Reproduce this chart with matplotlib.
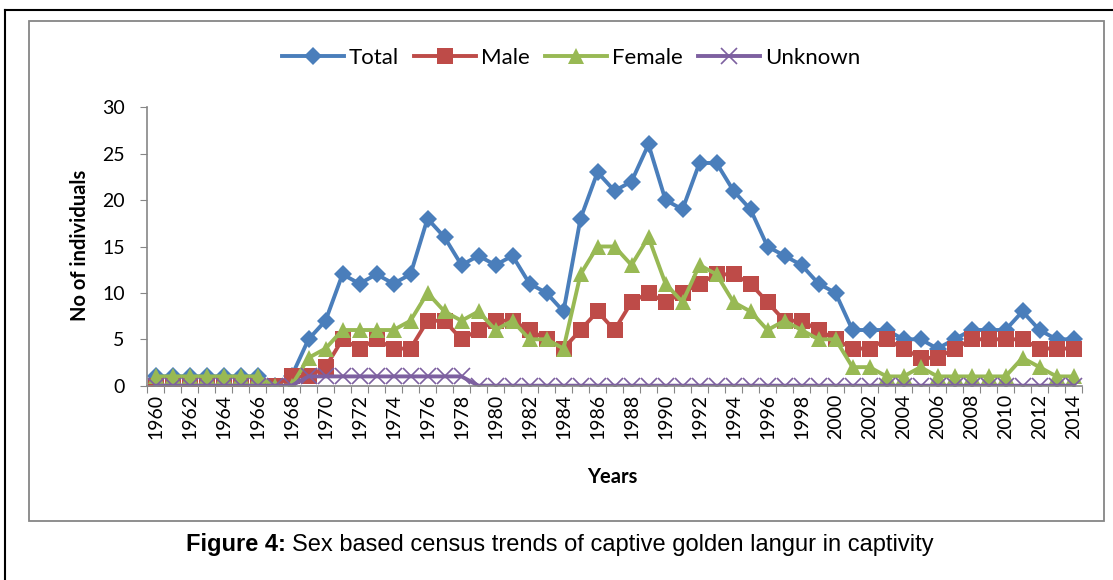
import numpy as np
import matplotlib
matplotlib.use('Agg')
import matplotlib.pyplot as plt
from matplotlib.lines import Line2D
from matplotlib.patches import Rectangle

plt.rcParams['font.family'] = ['Lato', 'DejaVu Sans']

years = list(range(1960, 2015))
total = [1, 1, 1, 1, 1, 1, 1, 0, 1, 5, 7, 12, 11, 12, 11, 12, 18, 16, 13, 14,
         13, 14, 11, 10, 8, 18, 23, 21, 22, 26, 20, 19, 24, 24, 21, 19, 15, 14,
         13, 11, 10, 6, 6, 6, 5, 5, 4, 5, 6, 6, 6, 8, 6, 5, 5]
male = [0, 0, 0, 0, 0, 0, 0, 0, 1, 1, 2, 5, 4, 5, 4, 4, 7, 7, 5, 6,
        7, 7, 6, 5, 4, 6, 8, 6, 9, 10, 9, 10, 11, 12, 12, 11, 9, 7,
        7, 6, 5, 4, 4, 5, 4, 3, 3, 4, 5, 5, 5, 5, 4, 4, 4]
female = [1, 1, 1, 1, 1, 1, 1, 0, 0, 3, 4, 6, 6, 6, 6, 7, 10, 8, 7, 8,
          6, 7, 5, 5, 4, 12, 15, 15, 13, 16, 11, 9, 13, 12, 9, 8, 6, 7,
          6, 5, 5, 2, 2, 1, 1, 2, 1, 1, 1, 1, 1, 3, 2, 1, 1]
unknown = [0, 0, 0, 0, 0, 0, 0, 0, 0, 1, 1, 1, 1, 1, 1, 1, 1, 1, 1, 0,
           0, 0, 0, 0, 0, 0, 0, 0, 0, 0, 0, 0, 0, 0, 0, 0, 0, 0,
           0, 0, 0, 0, 0, 0, 0, 0, 0, 0, 0, 0, 0, 0, 0, 0, 0]
yticks = [0, 5, 10, 15, 20, 25, 30]

W, H = 1113, 580
fig = plt.figure(figsize=(W / 100, H / 100), dpi=100)
ax = fig.add_axes([147 / W, 1 - 385.7 / H, 935 / W, 278.4 / H])
x = np.arange(len(years))

ax.plot(x, total, color='#4A7EBB', lw=2.8, marker='D', ms=9.5, mew=0, label='Total')
ax.plot(x, male, color='#BE4B48', lw=2.8, marker='s', ms=11.5, mew=0, label='Male')
ax.plot(x, female, color='#98B954', lw=2.8, marker='^', ms=12, mew=0, label='Female')
ax.plot(x, unknown, color='#7D60A0', lw=2.8, marker='x', ms=12, mew=1.2, label='Unknown')

ax.set_xlim(-0.5, len(years) - 0.5)
ax.set_ylim(0, 30)
ax.set_yticks(yticks)
ax.set_xticks(np.arange(-0.5, len(years), 1))
ax.set_xticklabels([])
ax.set_xticks(x[::2], minor=True)
ax.set_xticklabels([str(y) for y in years[::2]], minor=True, rotation=90)
ax.tick_params(axis='x', which='major', length=5, color='#868686', direction='out')
ax.tick_params(axis='x', which='minor', length=0, pad=6, labelsize=14)
ax.tick_params(axis='y', length=5, color='#868686', pad=11, labelsize=14)
for s in ['top', 'right']:
    ax.spines[s].set_visible(False)
for s in ['left', 'bottom']:
    ax.spines[s].set_color('#868686')
    ax.spines[s].set_linewidth(1.2)

fig.text(80 / W, 1 - 245 / H, 'No of individuals', rotation=90, ha='center', va='center',
         fontsize=14.5, fontweight='bold')
fig.text(612 / W, 1 - 477 / H, 'Years', ha='center', va='center', fontsize=14.5, fontweight='bold')

fig.legend(loc='center', bbox_to_anchor=(571 / W, 1 - 58 / H), ncol=4, frameon=False,
           fontsize=16, handlelength=2.8, handletextpad=0.2, columnspacing=0.7)

# frames
fig.add_artist(Rectangle((29 / W, 1 - 521 / H), (1104 - 29) / W, 500 / H, transform=fig.transFigure,
                         fill=False, edgecolor='#868686', lw=1.3))
fig.add_artist(Line2D([5 / W, 5 / W], [0, 1 - 10 / H], transform=fig.transFigure, color='black', lw=1.5))
fig.add_artist(Line2D([5 / W, 1], [1 - 10 / H, 1 - 10 / H], transform=fig.transFigure, color='black', lw=1.5))

# caption: bold part then the rest right after it
cap1 = fig.text(0, 1 - 551 / H, 'Figure 4:', family='Liberation Sans', fontsize=17,
                fontweight='bold', ha='left', va='baseline')
cap2 = fig.text(0, 1 - 551 / H, 'Sex based census trends of captive golden langur in captivity',
                family='Liberation Sans', fontsize=17, ha='left', va='baseline')
r = fig.canvas.get_renderer()
w1 = cap1.get_window_extent(r).width
w2 = cap2.get_window_extent(r).width
gap = 6
x0 = 560 - (w1 + gap + w2) / 2
cap1.set_x(x0 / W)
cap2.set_x((x0 + w1 + gap) / W)

fig.savefig('out.png', dpi=100)
